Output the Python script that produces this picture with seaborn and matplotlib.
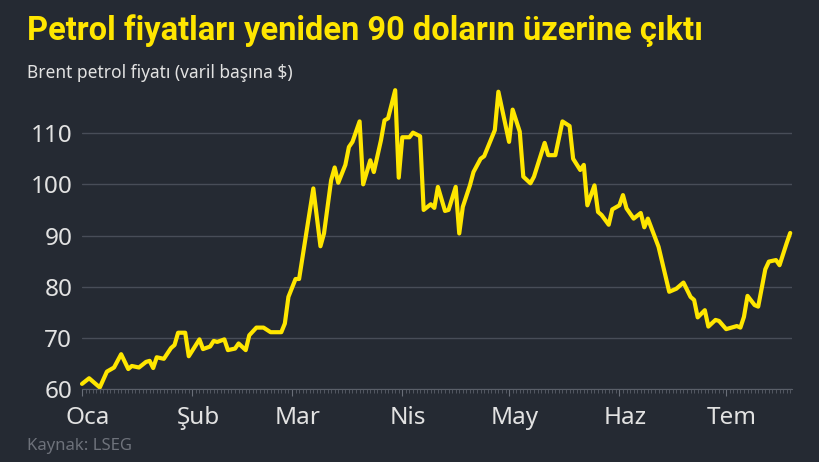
import matplotlib
matplotlib.use("Agg")
import matplotlib.pyplot as plt
import matplotlib.dates as mdates
import matplotlib.transforms as mtransforms
import pandas as pd
import seaborn as sns

# gün: 1 Ocak'tan itibaren geçen gün, fiyat: Brent ($/varil)
gun = [0, 2, 5, 7, 9, 11, 13, 14, 16, 18,
       19, 20, 21, 23, 25, 26, 27, 29, 30, 31,
       33, 34, 36, 37, 38, 40, 41, 43, 44, 46,
       47, 49, 51, 53, 56, 57, 58, 60, 61, 65,
       67, 68, 70, 71, 72, 74, 75, 76, 78, 79,
       81, 82, 84, 85, 86, 88, 89, 90, 92, 93,
       95, 96, 98, 99, 100, 102, 103, 105, 106, 107,
       109, 110, 112, 113, 116, 117, 120, 121, 123, 124,
       126, 127, 130, 131, 133, 135, 137, 138, 140, 141,
       142, 144, 145, 146, 148, 149, 151, 152, 153, 155,
       157, 158, 159, 162, 165, 167, 169, 171, 172, 173,
       175, 176, 178, 179, 181, 184, 185, 186, 187, 189,
       190, 192, 193, 195, 196, 198, 199]

fiyat = [61.0, 62.1, 60.3, 63.4, 64.2, 66.8, 63.9, 64.5, 64.2, 65.3,
         65.5, 64.1, 66.2, 65.9, 68.0, 68.6, 71.0, 71.0, 66.4, 67.5,
         69.7, 67.8, 68.3, 69.4, 69.2, 69.7, 67.6, 67.9, 68.9, 67.6,
         70.5, 72.0, 72.0, 71.1, 71.1, 72.8, 78.0, 81.5, 81.5, 99.2,
         87.9, 90.4, 100.8, 103.3, 100.3, 103.8, 107.3, 108.3, 112.3, 100.0,
         104.7, 102.4, 108.6, 112.5, 112.9, 118.4, 101.3, 109.2, 109.2, 110.1,
         109.4, 95.0, 96.1, 95.4, 99.5, 94.8, 95.0, 99.5, 90.4, 95.6,
         99.8, 102.4, 105.0, 105.5, 110.6, 118.1, 108.3, 114.6, 110.3, 101.5,
         100.2, 101.5, 108.1, 105.7, 105.7, 112.3, 111.4, 105.0, 102.8, 103.8,
         95.9, 99.8, 94.6, 94.0, 92.1, 95.1, 95.9, 97.9, 95.3, 93.3,
         94.4, 91.6, 93.3, 87.8, 79.0, 79.6, 80.8, 78.0, 77.4, 74.0,
         75.4, 72.2, 73.5, 73.3, 71.7, 72.3, 72.0, 74.1, 78.2, 76.4,
         76.1, 83.4, 84.9, 85.2, 84.2, 88.5, 90.5]

ay_etiketleri = ["Oca", "Şub", "Mar", "Nis", "May", "Haz", "Tem"]
y_ticks = [60, 70, 80, 90, 100, 110]

BASLIK = "Petrol fiyatları yeniden 90 doların üzerine çıktı"
ALT_BASLIK = "Brent petrol fiyatı (varil başına $)"
KAYNAK = "Kaynak: LSEG"

BG = "#252a33"
YELLOW = "#ffe600"
TEXT = "#e2e2e2"
GRID = "#484d58"

start = pd.Timestamp("2022-01-01")
df = pd.DataFrame({"tarih": start + pd.to_timedelta(gun, unit="D"), "fiyat": fiyat})

sns.set_theme(style="dark", rc={"axes.facecolor": BG, "figure.facecolor": BG})
plt.rcParams["font.family"] = ["Noto Sans", "DejaVu Sans"]

fig = plt.figure(figsize=(8.2, 4.62), dpi=100)
ax = fig.add_axes([82 / 820, 73 / 462, 710 / 820, 307 / 462])

sns.lineplot(data=df, x="tarih", y="fiyat", ax=ax, color=YELLOW, linewidth=3.0,
             solid_joinstyle="round", solid_capstyle="round")
ax.lines[0].set_clip_on(False)

ax.set_xlim(start, start + pd.Timedelta(days=199.5))
ax.set_ylim(60, 120)
ax.set_xlabel("")
ax.set_ylabel("")

for s in ["top", "right", "left"]:
    ax.spines[s].set_visible(False)
ax.spines["bottom"].set_color("#5a5f69")
ax.spines["bottom"].set_linewidth(0.8)

ax.set_yticks(y_ticks)
ax.set_yticklabels([str(v) for v in y_ticks])
ax.yaxis.grid(True, color=GRID, linewidth=1.0)
ax.xaxis.grid(False)
ax.tick_params(axis="y", length=0, pad=7, labelsize=17.5, labelcolor=TEXT)

ay_baslari = pd.date_range(start, periods=len(ay_etiketleri), freq="MS")
ax.set_xticks(ay_baslari)
ax.set_xticklabels(ay_etiketleri)
ax.xaxis.set_minor_locator(mdates.DayLocator())
ax.tick_params(axis="x", which="major", length=5, width=0.8, color="#6a6f79",
               pad=7, labelsize=17.5, labelcolor=TEXT, bottom=True)
ax.tick_params(axis="x", which="minor", length=3, width=0.6, color="#5a5f69", bottom=True)

kaydir = mtransforms.ScaledTranslation(6 / 100, 0, fig.dpi_scale_trans)
for lbl in ax.get_xticklabels():
    lbl.set_transform(lbl.get_transform() + kaydir)

baslik = fig.text(27 / 820, 1 - 40 / 462, BASLIK, color=YELLOW, fontsize=21,
                  fontweight="bold", family=["Roboto", "DejaVu Sans"],
                  va="baseline", ha="left")
fig.canvas.draw()
w = baslik.get_window_extent().width
baslik.set_fontsize(21 * 676 / w)

fig.text(27 / 820, 1 - 78 / 462, ALT_BASLIK, color=TEXT, fontsize=12.5,
         va="baseline", ha="left")
fig.text(27 / 820, 1 - 450 / 462, KAYNAK, color="#6e727b", fontsize=12,
         va="baseline", ha="left")

fig.savefig("out.png", dpi=100, facecolor=BG)
